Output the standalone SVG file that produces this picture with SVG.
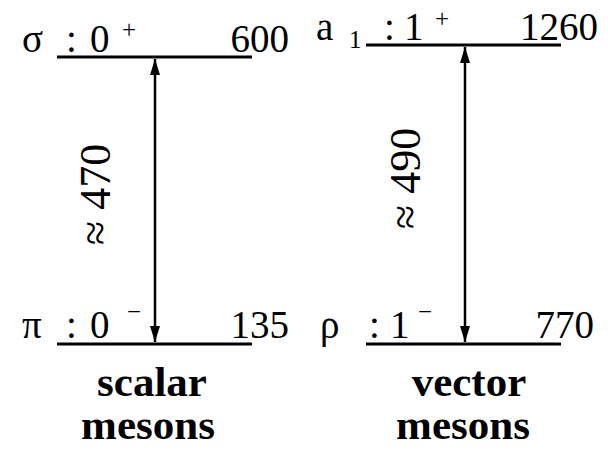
<svg xmlns="http://www.w3.org/2000/svg" width="608" height="455" viewBox="0 0 608 455">
<style>
text{fill:#000}
.t{font-size:39px}
.s{font-size:25px}
.b{font-size:43px;font-weight:bold;text-anchor:middle}
.v{font-size:44px}
.lvl{stroke:#000;stroke-width:3;fill:none}
.arr{stroke:#000;stroke-width:2.5;fill:none;marker-start:url(#ah);marker-end:url(#ah)}
</style>
<defs>
<marker id="ah" viewBox="0 0 16 10" refX="16" refY="5" markerWidth="16" markerHeight="10" markerUnits="userSpaceOnUse" orient="auto-start-reverse">
<path d="M0,0 L16,5 L0,10 z" fill="#000"/>
</marker>
</defs>
<g font-family="Liberation Serif, Times New Roman, serif">
<g id="sigma">
<line class="lvl" x1="57" y1="57" x2="252" y2="57"/>
<text class="t" x="22" y="52">σ</text>
<text class="t" x="66" y="52">:</text>
<text class="t" x="90" y="52">0</text>
<text class="s" x="122" y="38">+</text>
<text class="t" x="289" y="52" text-anchor="end">600</text>
</g>
<g id="pi">
<line class="lvl" x1="57" y1="344" x2="252" y2="344"/>
<text class="t" x="22" y="338">π</text>
<text class="t" x="66" y="338">:</text>
<text class="t" x="90" y="338">0</text>
<text class="s" x="127" y="320">−</text>
<text class="t" x="289" y="338" text-anchor="end">135</text>
</g>
<g id="a1">
<line class="lvl" x1="366" y1="45" x2="561" y2="45"/>
<text class="t" x="316" y="40">a</text>
<text class="s" x="349" y="48">1</text>
<text class="t" x="384" y="40">:</text>
<text class="t" x="404" y="40">1</text>
<text class="s" x="435" y="27">+</text>
<text class="t" x="598" y="40" text-anchor="end">1260</text>
</g>
<g id="rho">
<line class="lvl" x1="366" y1="344" x2="561" y2="344"/>
<text class="t" x="320" y="338">ρ</text>
<text class="t" x="369" y="338">:</text>
<text class="t" x="390" y="338">1</text>
<text class="s" x="418" y="320">−</text>
<text class="t" x="594" y="338" text-anchor="end">770</text>
</g>
<g id="labels">
<text class="b"><tspan x="152" y="396">scalar</tspan><tspan x="148" y="439">mesons</tspan></text>
<text class="b"><tspan x="469" y="396">vector</tspan><tspan x="463" y="439">mesons</tspan></text>
</g>
<g id="connectors">
<line class="arr" x1="155" y1="59" x2="155" y2="342"/>
<line class="arr" x1="465" y1="47" x2="465" y2="342"/>
<text class="v" transform="translate(110,245) rotate(-90)">≈ 470</text>
<text class="v" transform="translate(420,229) rotate(-90)">≈ 490</text>
</g>
</g>
</svg>
